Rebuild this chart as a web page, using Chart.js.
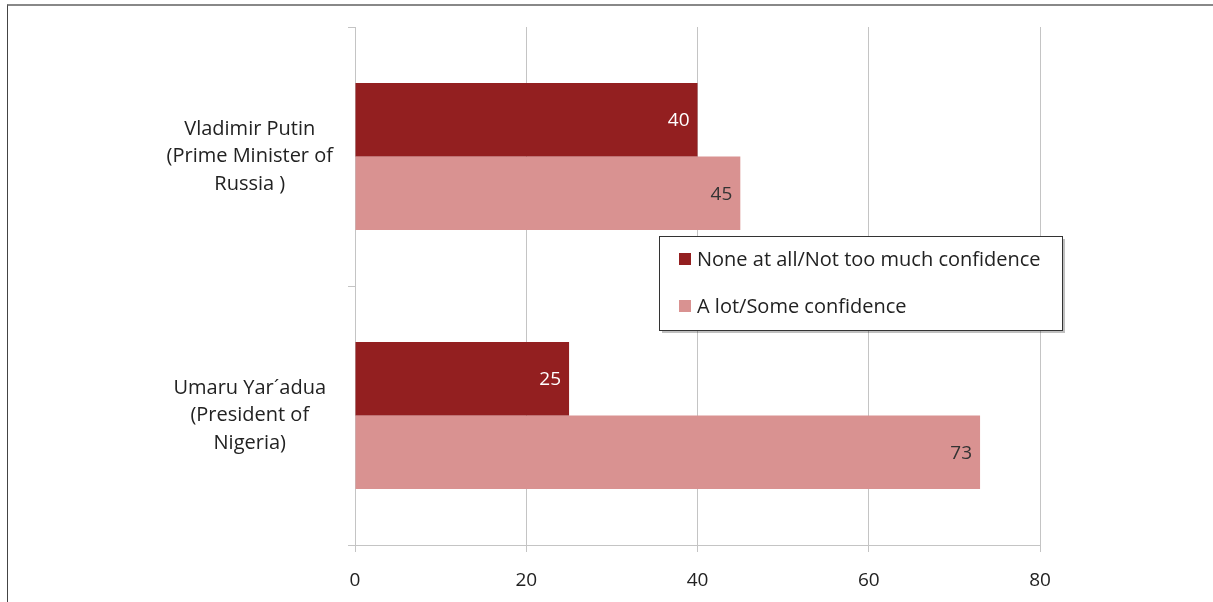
<!DOCTYPE html>
<html>
<head>
<meta charset="utf-8">
<script src="https://cdn.jsdelivr.net/npm/chart.js@4/dist/chart.umd.min.js"></script>
<style>
    html, body { margin: 0; padding: 0; background: #fff; }
    #wrap { position: relative; width: 1213px; height: 602px; overflow: hidden; }
    #frame { position: absolute; left: 7px; top: 4px; width: 1300px; height: 700px;
             border-left: 1px solid #444; border-top: 2px solid #888; }
    #c { position: absolute; left: 0; top: 0; }
</style>
</head>
<body>
<div id="wrap">
    <div id="frame"></div>
    <canvas id="c" width="1213" height="602"></canvas>
</div>
<script>
// dữ liệu
var categories = [
    ["Vladimir Putin", "(Prime Minister of", "Russia )"],
    ["Umaru Yar\u00b4adua", "(President of", "Nigeria)"]
];
var seriesNames = ["None at all/Not too much confidence", "A lot/Some confidence"];
var noConfidence = [40, 25];
var someConfidence = [45, 73];
var xTicks = [0, 20, 40, 60, 80];

var colors = ["#931f20", "#d99291"];
var labelColors = ["#ffffff", "#333333"];
var fontFamily = "'Open Sans', 'Noto Sans', sans-serif";

// vẽ số trên cột
var barLabels = {
    id: "barLabels",
    afterDatasetsDraw: function (chart) {
        var ctx = chart.ctx;
        ctx.save();
        ctx.font = "19px " + fontFamily;
        ctx.textAlign = "right";
        ctx.textBaseline = "middle";
        chart.data.datasets.forEach(function (ds, i) {
            chart.getDatasetMeta(i).data.forEach(function (bar, j) {
                ctx.fillStyle = labelColors[i];
                ctx.fillText(ds.data[j], bar.x - 8, bar.y + 1);
            });
        });
        ctx.restore();
    }
};

// chú thích trong khung
var boxLegend = {
    id: "boxLegend",
    afterDraw: function (chart) {
        var ctx = chart.ctx;
        var x = 659, y = 236, w = 403, h = 94;
        ctx.save();
        ctx.fillStyle = "rgba(0,0,0,0.25)";
        ctx.fillRect(x + 3, y + 3, w, h);
        ctx.fillStyle = "#fff";
        ctx.fillRect(x, y, w, h);
        ctx.strokeStyle = "#333";
        ctx.lineWidth = 1;
        ctx.strokeRect(x + 0.5, y + 0.5, w, h);
        ctx.font = "20px " + fontFamily;
        ctx.textBaseline = "middle";
        ctx.textAlign = "left";
        var rows = [259, 306];
        seriesNames.forEach(function (name, i) {
            ctx.fillStyle = colors[i];
            ctx.fillRect(679, rows[i] - 6, 12, 12);
            ctx.fillStyle = "#222";
            ctx.fillText(name, 697, rows[i] + 1);
        });
        ctx.restore();
    }
};

var chart = new Chart(document.getElementById("c"), {
    type: "bar",
    data: {
        labels: categories,
        datasets: [{
            label: seriesNames[0],
            data: noConfidence,
            backgroundColor: colors[0]
        }, {
            label: seriesNames[1],
            data: someConfidence,
            backgroundColor: colors[1]
        }]
    },
    options: {
        indexAxis: "y",
        responsive: false,
        animation: false,
        layout: { padding: { left: 0, top: 27, right: 173, bottom: 0 } },
        datasets: { bar: { categoryPercentage: 0.568, barPercentage: 1 } },
        plugins: { legend: { display: false }, tooltip: { enabled: false } },
        scales: {
            x: {
                min: 0,
                max: 80,
                afterBuildTicks: function (scale) {
                    scale.ticks = xTicks.map(function (v) { return { value: v }; });
                },
                grid: { color: "#c4c4c4", lineWidth: 1, tickLength: 7 },
                border: { color: "#c4c4c4" },
                ticks: { color: "#222", padding: 17, font: { family: fontFamily, size: 19 } },
                afterFit: function (scale) {
                    scale.height = 57;
                    scale.paddingLeft = 0;
                    scale.paddingRight = 0;
                }
            },
            y: {
                grid: { drawOnChartArea: false, color: "#c4c4c4", tickLength: 7, offset: true },
                border: { color: "#c4c4c4" },
                ticks: {
                    color: "#222",
                    crossAlign: "center",
                    padding: 15,
                    font: { family: fontFamily, size: 20, lineHeight: 1.37 }
                },
                afterFit: function (scale) {
                    scale.width = 355;
                    scale.paddingTop = 0;
                    scale.paddingBottom = 0;
                }
            }
        }
    },
    plugins: [barLabels, boxLegend]
});
</script>
</body>
</html>
